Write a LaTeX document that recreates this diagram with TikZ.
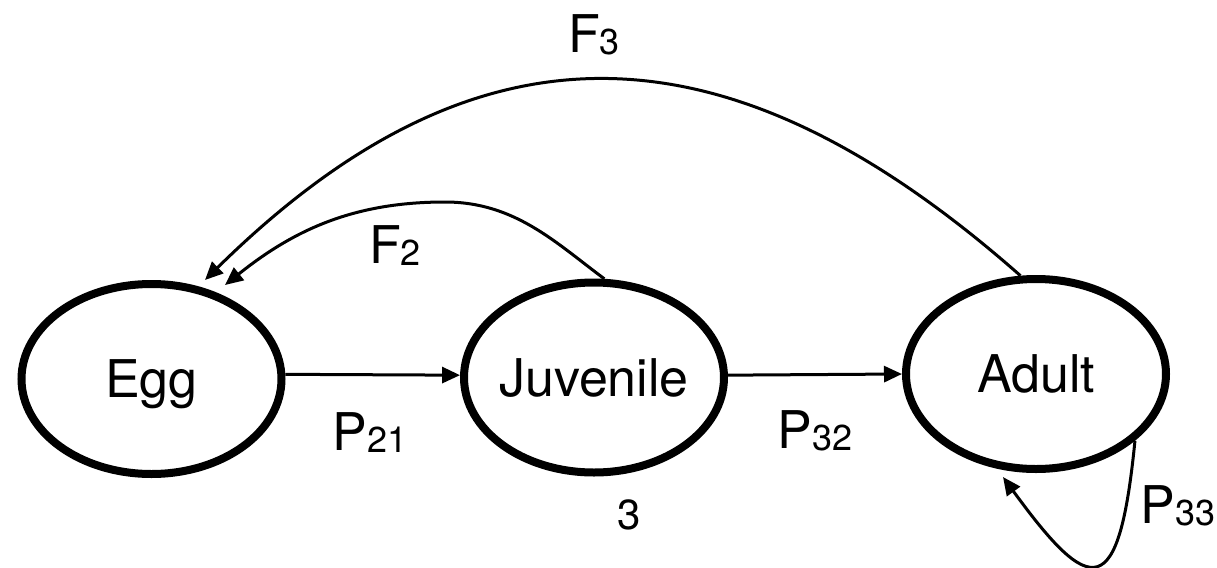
\documentclass[tikz,border=0pt]{standalone}
\usepackage{fontspec}
\setmainfont{TeX Gyre Heros}
\usetikzlibrary{arrows.meta,shapes.geometric}
\newcommand\lblsub[1]{{\fontsize{18}{18}\selectfont\raisebox{-1.2pt}{#1}}}
\begin{document}
\begin{tikzpicture}[x=0.5pt,y=-0.5pt,
  stage/.style={ellipse,draw,line width=4pt,minimum width=130pt,minimum height=95pt,
    inner sep=0pt,font=\fontsize{26}{30}\selectfont,text height=18.8pt,text depth=0pt},
  link/.style={line width=1.5pt,-{Triangle[length=9pt,width=8pt]}},
  lbl/.style={anchor=base,inner sep=0pt,font=\fontsize{26}{30}\selectfont}]
\useasboundingbox (0,0) rectangle (1217,568);
\node[stage] (egg) at (151.5,379) {\makebox[0pt]{Egg}};
\node[stage] (juv) at (594,377.5) {\makebox[0pt]{Juvenile}};
\node[stage] (adult) at (1036,374) {\makebox[0pt]{Adult}};
\coordinate (f2tip) at (225,285);
\coordinate (f3tip) at (205,280);
\coordinate (p33tip) at (1003,477);
\draw[link] (egg.2) -- (juv.179);
\draw[link] (juv.1) -- (adult.180);
\draw[link] (juv.84) .. controls (556,243) and (515,202) .. (445,202)
  .. controls (355,202) and (295,229) .. (f2tip);
\draw[link] (adult.99) .. controls (724,14) and (475,14) .. (f3tip);
\draw[link] (adult.-34) .. controls (1119,602) and (1091.5,598.5) .. (p33tip);
\node[lbl] (f3) at (594,52) {F\lblsub{3}};
\node[lbl] (f2) at (395,263) {F\lblsub{2}};
\node[lbl] (p21) at (370,450) {P\lblsub{21}};
\node[lbl] (p32) at (815,448) {P\lblsub{32}};
\node[lbl] (p33) at (1178,523) {P\lblsub{33}};
\node[lbl,font=\fontsize{21}{22}\selectfont] (three) at (629,529) {3};
\end{tikzpicture}
\end{document}
